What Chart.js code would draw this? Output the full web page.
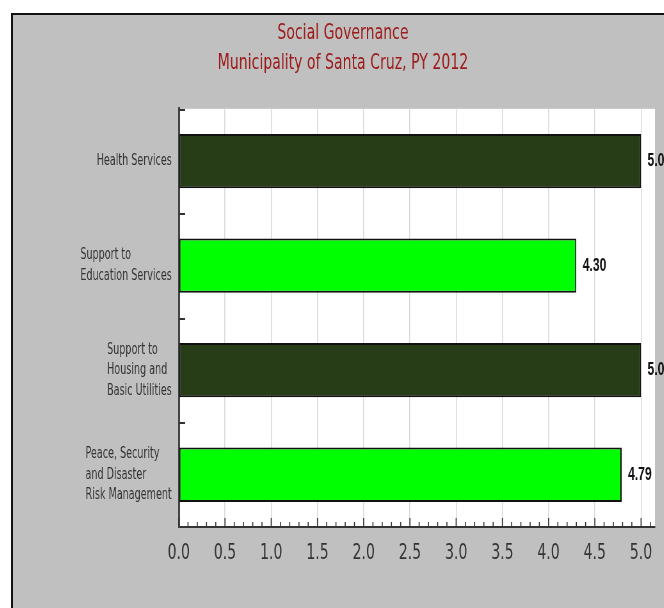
<!DOCTYPE html>
<html>
<head>
<meta charset="utf-8">
<script src="https://cdn.jsdelivr.net/npm/chart.js@4"></script>
<style>
  html, body { margin: 0; padding: 0; width: 664px; height: 608px; overflow: hidden; background: #fff; }
  #panel {
    position: absolute; left: 11px; top: 13px; width: 700px; height: 640px;
    background: #c0c0c0; border-top: 2px solid #111; border-left: 2px solid #111;
  }
  /* chart is drawn wide and squeezed horizontally */
  #wrap {
    position: absolute; left: 0; top: 0; width: 1031px; height: 593px;
    transform: scaleX(0.64); transform-origin: 0 0;
  }
</style>
</head>
<body>
<div id="panel"><div id="wrap"><canvas id="govChart"></canvas></div></div>
<script>
const categories = [
  ['Health Services'],
  ['Support to', 'Education Services'],
  ['Support to', 'Housing and', 'Basic Utilities'],
  ['Peace, Security', 'and Disaster', 'Risk Management']
];
const scores = [5.00, 4.30, 5.00, 4.79];
const barColors = ['#263d18', '#00ff00', '#263d18', '#00ff00'];
const titleLines = ['Social Governance', 'Municipality of Santa Cruz, PY 2012'];
const xMin = 0;
const xMax = 5.15;
const xStep = 0.5;

const plotBg = {
  id: 'plotBg',
  beforeDraw(chart) {
    const { ctx, chartArea: a } = chart;
    ctx.save();
    ctx.fillStyle = '#fff';
    ctx.fillRect(a.left, a.top, a.right - a.left, a.bottom - a.top);
    ctx.restore();
  }
};

// category labels: block right-aligned to the axis, lines left-aligned inside
const catLabels = {
  id: 'catLabels',
  afterDraw(chart) {
    const { ctx, chartArea: a } = chart;
    const y = chart.scales.y;
    ctx.save();
    ctx.font = '15px "DejaVu Sans"';
    ctx.fillStyle = '#333';
    ctx.textAlign = 'left';
    ctx.textBaseline = 'middle';
    categories.forEach((lines, i) => {
      const yc = y.getPixelForValue(i);
      const w = Math.max(...lines.map(l => ctx.measureText(l).width));
      const x0 = a.left - 11 - w;
      lines.forEach((l, j) => {
        ctx.fillText(l, x0, yc + (j - (lines.length - 1) / 2) * 20.5);
      });
    });
    ctx.restore();
  }
};

// small inward tick marks on both axes
const axisMarks = {
  id: 'axisMarks',
  afterDraw(chart) {
    const { ctx, chartArea: a } = chart;
    const x = chart.scales.x, y = chart.scales.y;
    ctx.save();
    ctx.strokeStyle = '#333';
    ctx.lineWidth = 2;
    for (let i = 0; i < categories.length; i++) {
      const py = Math.round(y.getPixelForValue(i - 0.5)) + 1;
      ctx.beginPath();
      ctx.moveTo(a.left, py);
      ctx.lineTo(a.left + 10, py);
      ctx.stroke();
    }
    ctx.lineWidth = 1.6;
    for (let k = 0; k / 10 <= xMax; k++) {
      const px = x.getPixelForValue(k / 10);
      const len = k % 5 === 0 ? 9 : 5;
      ctx.beginPath();
      ctx.moveTo(px, a.bottom);
      ctx.lineTo(px, a.bottom - len);
      ctx.stroke();
    }
    ctx.restore();
  }
};

const valueLabels = {
  id: 'valueLabels',
  afterDatasetsDraw(chart) {
    const { ctx } = chart;
    const meta = chart.getDatasetMeta(0);
    ctx.save();
    ctx.font = 'bold 19px "Liberation Sans"';
    ctx.fillStyle = '#111';
    ctx.textAlign = 'left';
    ctx.textBaseline = 'middle';
    meta.data.forEach((bar, i) => {
      ctx.fillText(scores[i].toFixed(2), bar.x + 10, bar.y);
    });
    ctx.restore();
  }
};

const ctx = document.getElementById('govChart').getContext('2d');
new Chart(ctx, {
  type: 'bar',
  data: {
    labels: categories,
    datasets: [{
      data: scores,
      backgroundColor: barColors,
      borderColor: '#111',
      borderWidth: 2,
      borderSkipped: false,
      barPercentage: 1,
      categoryPercentage: 0.52
    }]
  },
  options: {
    indexAxis: 'y',
    responsive: true,
    maintainAspectRatio: false,
    animation: false,
    layout: { padding: { left: 28, right: 28, top: 0, bottom: 0 } },
    plugins: {
      legend: { display: false },
      tooltip: { enabled: false },
      title: {
        display: true,
        text: titleLines,
        color: '#9c1a1a',
        font: { family: 'DejaVu Sans', size: 22, weight: 'normal', lineHeight: 1.36 },
        padding: { top: 3, bottom: 31 }
      }
    },
    scales: {
      x: {
        type: 'linear',
        min: xMin,
        max: xMax,
        afterFit(scale) { scale.height = 81; },
        ticks: {
          stepSize: xStep,
          includeBounds: false,
          color: '#333',
          padding: 13,
          font: { family: 'DejaVu Sans', size: 22 },
          callback: v => Number(v).toFixed(1)
        },
        grid: { color: '#dadada', lineWidth: 1.5, drawTicks: false },
        border: { display: true, color: '#333', width: 2 }
      },
      y: {
        type: 'category',
        offset: true,
        afterFit(scale) { scale.width = 231; },
        ticks: { display: false },
        grid: { display: false, drawTicks: false },
        border: { display: true, color: '#444', width: 3 }
      }
    }
  },
  plugins: [plotBg, catLabels, axisMarks, valueLabels]
});
</script>
</body>
</html>
